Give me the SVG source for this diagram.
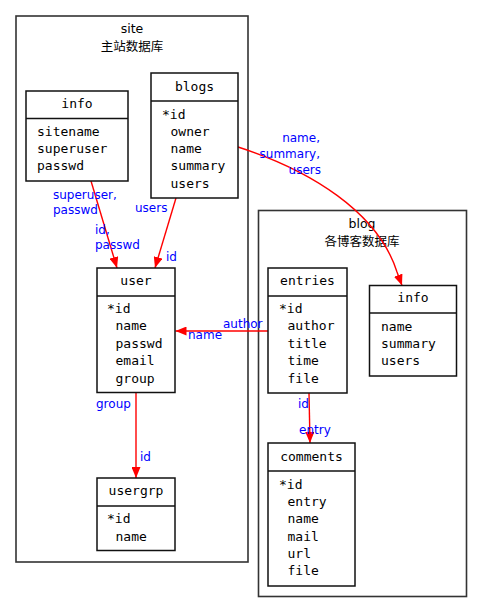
<svg xmlns="http://www.w3.org/2000/svg" width="483" height="613" viewBox="0 0 483 613">
<style>
.cl{fill:none;stroke:#333;stroke-width:1.6}
.nd{fill:#fff;stroke:#111;stroke-width:1.5}
.dv{stroke:#111;stroke-width:1.5}
.m{font-family:"DejaVu Sans Mono",monospace;font-size:13px;fill:#000}
.mc{font-family:"DejaVu Sans Mono",monospace;font-size:13px;fill:#000;text-anchor:middle}
.t{font-family:"DejaVu Sans","Noto Sans CJK SC",sans-serif;font-size:12.5px;fill:#000;text-anchor:middle}
.lb{font-family:"DejaVu Sans",sans-serif;font-size:12px;fill:#0000ff}
.lr{font-family:"DejaVu Sans",sans-serif;font-size:12px;fill:#0000ff;text-anchor:end}
.e{fill:none;stroke:#ff0000;stroke-width:1.4}
</style>
<defs>
<marker id="ah" markerUnits="userSpaceOnUse" markerWidth="12" markerHeight="9" refX="11" refY="4.5" orient="auto" viewBox="0 0 12 9">
<path d="M0,0 L11,4.5 L0,9 Z" fill="#ff0000"/>
</marker>
</defs>
<rect width="483" height="613" fill="#fff"/>
<g id="cluster_site">
<rect class="cl" x="16" y="16" width="232" height="546"/>
<text class="t" x="132" y="33">site</text>
<text class="t" x="132" y="51">主站数据库</text>
</g>
<g id="cluster_blog">
<rect class="cl" x="258.5" y="210.5" width="208" height="386"/>
<text class="t" x="362" y="228">blog</text>
<text class="t" x="362" y="246">各博客数据库</text>
</g>
<g id="connectors">
<path class="e" d="M91,181 L117,268" marker-end="url(#ah)"/>
<path class="e" d="M176,198 L155,268" marker-end="url(#ah)"/>
<path class="e" d="M268,331 L175.5,331" marker-end="url(#ah)"/>
<path class="e" d="M136,392 L136,478" marker-end="url(#ah)"/>
<path class="e" d="M309,393 L310,443" marker-end="url(#ah)"/>
<path class="e" d="M238,147 C310,170 378,212 397,272 L402,285.5" marker-end="url(#ah)"/>
<text class="lb" x="53" y="199">superuser,</text>
<text class="lb" x="53" y="214">passwd</text>
<text class="lb" x="95" y="234">id,</text>
<text class="lb" x="95" y="249">passwd</text>
<text class="lb" x="135" y="212">users</text>
<text class="lb" x="166" y="261">id</text>
<text class="lb" x="223" y="328">author</text>
<text class="lb" x="188" y="339">name</text>
<text class="lb" x="96" y="408">group</text>
<text class="lb" x="140" y="461">id</text>
<text class="lb" x="298" y="408">id</text>
<text class="lb" x="299" y="434">entry</text>
<text class="lr" x="320" y="142">name,</text>
<text class="lr" x="320" y="158">summary,</text>
<text class="lr" x="321" y="174">users</text>
</g>
<g id="site_info">
<rect class="nd" x="26" y="91" width="102" height="90"/>
<line class="dv" x1="26" y1="118.5" x2="128" y2="118.5"/>
<text class="mc" x="77" y="108">info</text>
<text class="m" x="37" y="136">sitename</text>
<text class="m" x="37" y="153">superuser</text>
<text class="m" x="37" y="170">passwd</text>
</g>
<g id="blogs">
<rect class="nd" x="151" y="73" width="87" height="125"/>
<line class="dv" x1="151" y1="101" x2="238" y2="101"/>
<text class="mc" x="194.5" y="91">blogs</text>
<text class="m" x="162" y="118.5">*id</text>
<text class="m" x="170.5" y="135.5">owner</text>
<text class="m" x="170.5" y="153">name</text>
<text class="m" x="170.5" y="170">summary</text>
<text class="m" x="170.5" y="187.5">users</text>
</g>
<g id="user">
<rect class="nd" x="97" y="268" width="78" height="124.5"/>
<line class="dv" x1="97" y1="296" x2="175" y2="296"/>
<text class="mc" x="136" y="285">user</text>
<text class="m" x="107" y="312.5">*id</text>
<text class="m" x="115.5" y="330">name</text>
<text class="m" x="115.5" y="347.5">passwd</text>
<text class="m" x="115.5" y="365">email</text>
<text class="m" x="115.5" y="382.5">group</text>
</g>
<g id="usergrp">
<rect class="nd" x="97" y="478" width="78" height="72.5"/>
<line class="dv" x1="97" y1="506" x2="175" y2="506"/>
<text class="mc" x="136" y="495">usergrp</text>
<text class="m" x="107" y="522.5">*id</text>
<text class="m" x="115.5" y="540.5">name</text>
</g>
<g id="entries">
<rect class="nd" x="268" y="268" width="79" height="125"/>
<line class="dv" x1="268" y1="296" x2="347" y2="296"/>
<text class="mc" x="307.5" y="285">entries</text>
<text class="m" x="279" y="312.5">*id</text>
<text class="m" x="287.5" y="330">author</text>
<text class="m" x="287.5" y="347.5">title</text>
<text class="m" x="287.5" y="365">time</text>
<text class="m" x="287.5" y="382.5">file</text>
</g>
<g id="blog_info">
<rect class="nd" x="369.5" y="285.5" width="87" height="90.5"/>
<line class="dv" x1="369.5" y1="313" x2="456.5" y2="313"/>
<text class="mc" x="413" y="302">info</text>
<text class="m" x="381" y="331">name</text>
<text class="m" x="381" y="348">summary</text>
<text class="m" x="381" y="365">users</text>
</g>
<g id="comments">
<rect class="nd" x="268" y="443" width="87" height="143"/>
<line class="dv" x1="268" y1="471" x2="355" y2="471"/>
<text class="mc" x="311.5" y="461">comments</text>
<text class="m" x="279" y="488.5">*id</text>
<text class="m" x="287.5" y="506">entry</text>
<text class="m" x="287.5" y="523">name</text>
<text class="m" x="287.5" y="540.5">mail</text>
<text class="m" x="287.5" y="558">url</text>
<text class="m" x="287.5" y="575">file</text>
</g>
</svg>
